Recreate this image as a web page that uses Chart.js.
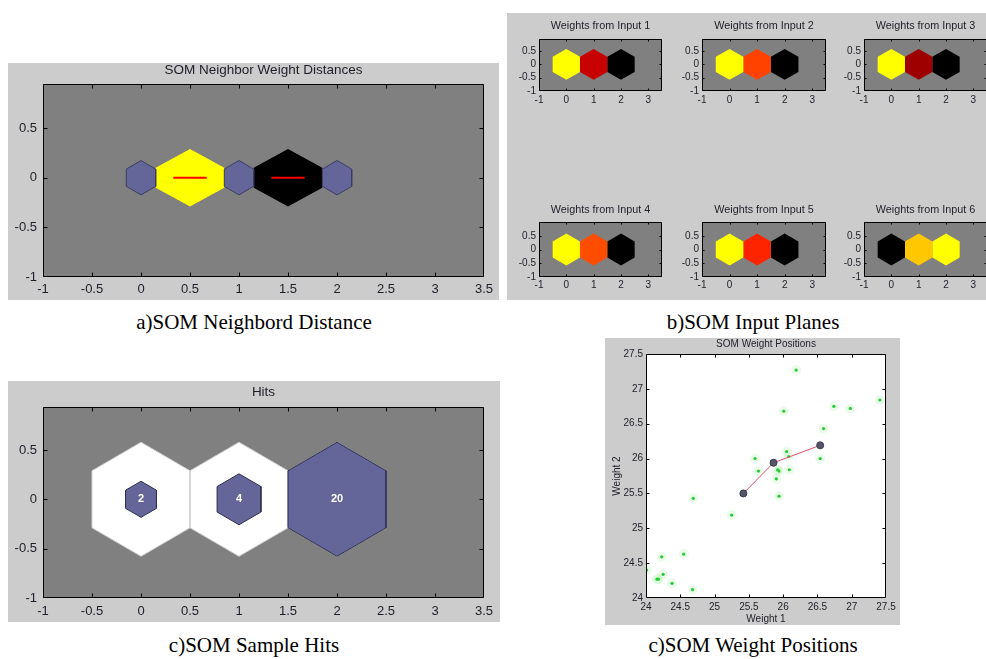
<!DOCTYPE html>
<html><head><meta charset="utf-8">
<script src="https://cdn.jsdelivr.net/npm/chart.js@4.4.1/dist/chart.umd.min.js"></script>
<style>
html,body{margin:0;padding:0;width:986px;height:659px;overflow:hidden;background:#fff;position:relative;}
.panel{position:absolute;background:#cccccc;}
canvas{position:absolute;}
.cap{position:absolute;font-family:"Liberation Serif","DejaVu Serif",serif;font-size:21px;line-height:1;color:#000;white-space:nowrap;transform:translate(-50%,-50%);}
</style></head><body>
<div class="panel" style="left:8px;top:63px;width:491px;height:237px"></div>
<div class="panel" style="left:507px;top:13px;width:479px;height:287px"></div>
<div class="panel" style="left:8px;top:381px;width:492px;height:241px"></div>
<div class="panel" style="left:605px;top:338px;width:295px;height:287px"></div>
<div class="cap" style="left:254px;top:322px">a)SOM Neighbord Distance</div>
<div class="cap" style="left:753px;top:322px">b)SOM Input Planes</div>
<div class="cap" style="left:254px;top:645px">c)SOM Sample Hits</div>
<div class="cap" style="left:753px;top:645px">c)SOM Weight Positions</div>
<script>
// ---------------- data ----------------
const neuronPos = [0, 1, 2];                 // 1x3 hexagonal SOM, neurons on y = 0
const neighborDistance = [0, 1];             // normalized distance 0-1 and 1-2 (0 = closest)
const planeTitles = ['Weights from Input 1', 'Weights from Input 2', 'Weights from Input 3',
                     'Weights from Input 4', 'Weights from Input 5', 'Weights from Input 6'];
const planeWeights1 = [1.00, 0.39, 0.00];
const planeWeights2 = [1.00, 0.63, 0.00];
const planeWeights3 = [1.00, 0.31, 0.00];
const planeWeights4 = [1.00, 0.65, 0.00];
const planeWeights5 = [1.00, 0.57, 0.00];
const planeWeights6 = [0.00, 0.89, 1.00];
const hits = [2, 4, 20];
const sampleW1 = [26.01, 26.74, 26.98, 27.41, 26.59, 26.05, 26.08, 25.59, 26.54, 25.64, 25.94, 25.92, 26.09,
                  25.90, 25.94, 24.69, 25.25, 24.55, 24.23, 24.01, 24.16, 24.18, 24.25, 24.38, 24.68, 26.19];
const sampleW2 = [26.68, 26.75, 26.72, 26.84, 26.43, 26.10, 26.03, 26.00, 26.00, 25.82, 25.82, 25.84, 25.84,
                  25.71, 25.46, 25.43, 25.19, 24.63, 24.59, 24.40, 24.27, 24.27, 24.34, 24.21, 24.12, 27.27];
const neuronW1 = [25.42, 25.86, 26.54];
const neuronW2 = [25.50, 25.94, 26.19];
const xTicksGrid = [-1, -0.5, 0, 0.5, 1, 1.5, 2, 2.5, 3, 3.5];
const yTicksGrid = [-1, -0.5, 0, 0.5];
const xTicksPlane = [-1, 0, 1, 2, 3];
const yTicksPlane = [-1, -0.5, 0, 0.5];
const ticksWeight = [24, 24.5, 25, 25.5, 26, 26.5, 27, 27.5];

// ---------------- helpers ----------------
const HEX_R = 1 / Math.sqrt(3);
function hexVerts(cx, cy, r) {
  const v = [];
  for (let k = 0; k <= 6; k++) {
    const a = Math.PI / 2 - k * Math.PI / 3;
    v.push({x: cx + r * Math.cos(a), y: cy + r * Math.sin(a)});
  }
  return v;
}
function neighborPatch(xa, xb) {
  const m = (xa + xb) / 2;
  return [{x: xa + 0.15, y: 0.10}, {x: m, y: 0.29}, {x: xb - 0.15, y: 0.10},
          {x: xb - 0.15, y: -0.10}, {x: m, y: -0.29}, {x: xa + 0.15, y: -0.10}, {x: xa + 0.15, y: 0.10}];
}
function hot(v) {
  if (v <= 0.5) return `rgb(${Math.round(510 * v)},0,0)`;
  return `rgb(255,${Math.round(510 * (v - 0.5))},0)`;
}
function poly(verts, fill, edge, order, ew) {
  return {data: verts, polyFill: fill, showLine: !!edge, borderColor: edge || 'transparent',
          borderWidth: ew || 1, pointRadius: 0, pointHoverRadius: 0, order: order};
}

const FONT = 'Liberation Sans, Arial, Helvetica, sans-serif';

const polyFillPlugin = {
  id: 'polyFill',
  beforeDatasetDraw(chart, args) {
    const ds = chart.data.datasets[args.index];
    if (!ds.polyFill) return;
    const pts = args.meta.data;
    const ctx = chart.ctx;
    ctx.save();
    ctx.beginPath();
    pts.forEach((p, i) => i ? ctx.lineTo(p.x, p.y) : ctx.moveTo(p.x, p.y));
    ctx.closePath();
    ctx.fillStyle = ds.polyFill;
    ctx.fill();
    ctx.restore();
  }
};
const frameTicksPlugin = {
  id: 'frameTicks',
  beforeDraw(chart, args, opts) {
    if (!opts.bg) return;
    const {ctx, chartArea: a} = chart;
    ctx.save();
    ctx.fillStyle = opts.bg;
    ctx.fillRect(a.left, a.top, a.right - a.left, a.bottom - a.top);
    ctx.restore();
  },
  afterDatasetsDraw(chart, args, opts) {
    if (!opts.bg) return;
    const {ctx, chartArea: a} = chart;
    const x = chart.scales.x, y = chart.scales.y;
    const len = opts.len || 3;
    const L = Math.round(a.left) + 0.5, R = Math.round(a.right) - 0.5;
    const T = Math.round(a.top) + 0.5, B = Math.round(a.bottom) - 0.5;
    ctx.save();
    ctx.strokeStyle = opts.color || '#000';
    ctx.lineWidth = 1;
    ctx.beginPath();
    x.ticks.forEach(t => {
      const px = Math.round(x.getPixelForValue(t.value)) + 0.5;
      if (px < L - 0.1 || px > R + 0.1) return;
      ctx.moveTo(px, B); ctx.lineTo(px, B - len);
      ctx.moveTo(px, T); ctx.lineTo(px, T + len);
    });
    y.ticks.forEach(t => {
      const py = Math.round(y.getPixelForValue(t.value)) + 0.5;
      if (py < T - 0.1 || py > B + 0.1) return;
      ctx.moveTo(L, py); ctx.lineTo(L + len, py);
      ctx.moveTo(R, py); ctx.lineTo(R - len, py);
    });
    ctx.rect(L, T, R - L, B - T);
    ctx.stroke();
    ctx.restore();
  }
};
Chart.register(polyFillPlugin, frameTicksPlugin);

function build(g, datasets, extra) {
  const lh = g.titleSize * 1.2;
  const top = Math.round(g.titleY - 2 - lh / 2);
  const padTop = g.titleY - top - lh / 2;
  const padBottom = g.T - top - padTop - lh;
  const left = g.L - g.yW;
  const rightPad = g.yW;
  const w = g.yW + (g.R - g.L) + rightPad;
  const h = g.B - top + g.xH;
  const c = document.createElement('canvas');
  c.width = w; c.height = h;
  c.style.left = left + 'px'; c.style.top = top + 'px';
  c.style.width = w + 'px'; c.style.height = h + 'px';
  document.body.appendChild(c);
  const tickFont = {family: FONT, size: g.tickSize};
  const txt = '#1e1e28';
  const noGrid = {display: false, drawTicks: false, tickLength: 0};
  return new Chart(c, {
    type: 'scatter',
    data: {datasets},
    options: {
      responsive: false, animation: false, devicePixelRatio: 1, events: [],
      layout: {padding: 0},
      plugins: {
        legend: {display: false}, tooltip: {enabled: false},
        title: {display: true, text: g.titleText, color: txt,
                font: {family: FONT, size: g.titleSize, weight: 'normal'},
                padding: {top: padTop, bottom: padBottom}},
        frameTicks: {len: g.tickLen, bg: g.bg, color: '#000'}
      },
      scales: {
        x: {type: 'linear', position: 'bottom', min: g.xMin, max: g.xMax,
            grid: noGrid, border: {display: false},
            afterBuildTicks: s => { s.ticks = g.xTicks.map(v => ({value: v})); },
            afterFit: s => { s.height = g.xH; s.paddingLeft = 0; s.paddingRight = 0; },
            ticks: {autoSkip: false, maxRotation: 0, minRotation: 0, padding: g.xPad, color: txt, font: tickFont,
                    callback: v => String(v)},
            title: g.xTitle ? {display: true, text: g.xTitle, color: txt, font: {family: FONT, size: g.tickSize}, padding: 0}
                            : {display: false}},
        y: {type: 'linear', position: 'left', min: g.yMin, max: g.yMax,
            grid: noGrid, border: {display: false},
            afterBuildTicks: s => { s.ticks = g.yTicks.map(v => ({value: v})); },
            afterFit: s => { s.width = g.yW; s.paddingTop = 0; s.paddingBottom = 0; },
            ticks: {autoSkip: false, padding: g.yPad, color: txt, font: tickFont, callback: v => String(v)},
            title: g.yTitle ? {display: true, text: g.yTitle, color: txt, font: {family: FONT, size: g.tickSize}, padding: 0}
                            : {display: false}},
        y2: {type: 'linear', position: 'right', min: 0, max: 1, display: true,
             grid: noGrid, border: {display: false}, ticks: {display: false},
             afterFit: s => { s.width = rightPad; s.paddingTop = 0; s.paddingBottom = 0; }}
      }
    },
    plugins: extra || []
  });
}

// ---------------- a) neighbor distances ----------------
(function () {
  const ds = [];
  neuronPos.forEach(p => ds.push(poly(hexVerts(p, 0, 0.3 * HEX_R), '#64669a', '#3c3d60', 2)));
  neighborDistance.forEach((d, i) => {
    const xa = neuronPos[i], xb = neuronPos[i + 1];
    ds.push(poly(neighborPatch(xa, xb), hot(1 - d), null, 2));
    const m = (xa + xb) / 2;
    ds.push({data: [{x: m - 0.17, y: 0}, {x: m + 0.17, y: 0}], showLine: true, borderColor: '#ff0000',
             borderWidth: 2, pointRadius: 0, pointHoverRadius: 0, order: 0});
  });
  build({L: 43, T: 84, R: 484, B: 277, yW: 40, xH: 24, titleText: 'SOM Neighbor Weight Distances',
         titleSize: 13.5, titleY: 70, xMin: -1, xMax: 3.5, yMin: -1, yMax: 0.944,
         xTicks: xTicksGrid, yTicks: yTicksGrid, tickSize: 13, xPad: 5, yPad: 6, bg: '#808080', tickLen: 4}, ds);
})();

// ---------------- b) input planes ----------------
(function () {
  const weights = [planeWeights1, planeWeights2, planeWeights3, planeWeights4, planeWeights5, planeWeights6];
  const cols = [[539, 662], [702, 826], [864, 987]];
  const rows = [{T: 39, B: 91, titleY: 26, yMax: 0.95, xPad: 3}, {T: 222, B: 277, titleY: 210, yMax: 1.0, xPad: 2}];
  weights.forEach((wv, k) => {
    const col = cols[k % 3], row = rows[Math.floor(k / 3)];
    const ds = neuronPos.map((p, i) => poly(hexVerts(p, 0, HEX_R), hot(wv[i]), null, 1));
    build({L: col[0], R: col[1], T: row.T, B: row.B, yW: 30, xH: 18, titleText: planeTitles[k],
           titleSize: 10.8, titleY: row.titleY, xMin: -1, xMax: 3.5, yMin: -1, yMax: row.yMax,
           xTicks: xTicksPlane, yTicks: yTicksPlane, tickSize: 10, xPad: row.xPad, yPad: 3,
           bg: '#808080', tickLen: 2}, ds);
  });
})();

// ---------------- c) sample hits ----------------
(function () {
  const maxHits = Math.max(...hits);
  const ds = [];
  neuronPos.forEach(p => ds.push(poly(hexVerts(p, 0, HEX_R), '#ffffff', '#d2d2d2', 3)));
  neuronPos.forEach((p, i) => ds.push(poly(hexVerts(p, 0, HEX_R * Math.sqrt(hits[i] / maxHits)), '#64669a', '#2e2f50', 1)));
  const hitLabels = {
    id: 'hitLabels',
    afterDatasetsDraw(chart) {
      const {ctx} = chart; const x = chart.scales.x, y = chart.scales.y;
      ctx.save();
      ctx.fillStyle = '#ffffff';
      ctx.font = 'bold 11px ' + FONT;
      ctx.textAlign = 'center'; ctx.textBaseline = 'middle';
      neuronPos.forEach((p, i) => ctx.fillText(String(hits[i]), x.getPixelForValue(p), y.getPixelForValue(0)));
      ctx.restore();
    }
  };
  build({L: 43, T: 407, R: 484, B: 598, yW: 40, xH: 24, titleText: 'Hits',
         titleSize: 13.5, titleY: 392, xMin: -1, xMax: 3.5, yMin: -1, yMax: 0.935,
         xTicks: xTicksGrid, yTicks: yTicksGrid, tickSize: 13, xPad: 6, yPad: 6, bg: '#808080', tickLen: 4},
        ds, [hitLabels]);
})();

// ---------------- d) weight positions ----------------
(function () {
  const samples = sampleW1.map((v, i) => ({x: v, y: sampleW2[i]}));
  const neurons = neuronW1.map((v, i) => ({x: v, y: neuronW2[i]}));
  const ds = [
    {data: neurons, showLine: true, borderColor: '#e0506e', borderWidth: 1, pointRadius: 3.5, pointHoverRadius: 3.5,
     pointBackgroundColor: '#55566a', pointBorderColor: '#3a3a4a', pointBorderWidth: 1, order: 0},
    {data: samples, pointRadius: 1.6, pointHoverRadius: 1.6, backgroundColor: '#22cc33', borderWidth: 0, order: 1},
    {data: samples, pointRadius: 5, pointHoverRadius: 5, backgroundColor: 'rgba(60,230,60,0.10)', borderWidth: 0, order: 2}
  ];
  build({L: 646, T: 354, R: 886, B: 598, yW: 35, xH: 27, titleText: 'SOM Weight Positions',
         titleSize: 10, titleY: 344, xMin: 24, xMax: 27.5, yMin: 24, yMax: 27.5,
         xTicks: ticksWeight, yTicks: ticksWeight, tickSize: 10, xPad: 3, yPad: 3, bg: '#ffffff', tickLen: 3,
         xTitle: 'Weight 1', yTitle: 'Weight 2'}, ds);
})();
</script>
</body></html>
